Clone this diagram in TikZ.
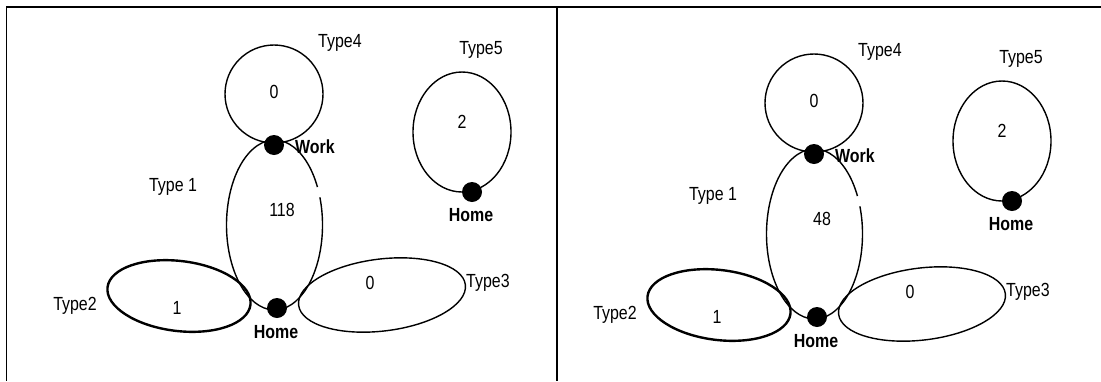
\documentclass[tikz,border=0pt]{standalone}
\usepackage{fontspec}
\setmainfont[FakeStretch=0.84]{Liberation Sans}
\tikzset{
  loopline/.style={draw=black, line width=1.4pt},
  thickloop/.style={draw=black, line width=2.4pt},
  dot/.style={circle, fill=black, minimum size=20pt, inner sep=0pt},
  lbl/.style={font=\fontsize{19}{21}\selectfont, inner sep=0pt},
  blbl/.style={font=\fontsize{19}{21}\selectfont\bfseries, inner sep=0pt},
  frameline/.style={line width=1.4pt}
}
\newcommand\drawpanel[2]{%
  % Type4 loop
  \draw[loopline] (274,-94) circle[radius=49];
  % Type5 loop
  \draw[loopline] (462,-132) ellipse[x radius=49, y radius=60];
  % Type 1 loop (with small gap on the right)
  \draw[loopline] (317.46,-187.07) arc[start angle=26.5, end angle=379, x radius=48, y radius=85];
  % Type2 loop
  \draw[thickloop, rotate around={-7:(179,-296)}] (179,-296) ellipse[x radius=72, y radius=35];
  % Type3 loop
  \draw[loopline, rotate around={7:(382,-295)}] (382,-295) ellipse[x radius=84, y radius=36];
  % dots
  \node[dot] (#1work) at (274,-145) {};
  \node[dot] (#1home) at (277,-308) {};
  \node[dot] (#1homeb) at (472,-192) {};
  % labels
  \node[blbl, anchor=west] (#1worklbl) at (295,-147) {Work};
  \node[blbl] (#1homelbl) at (276,-332) {Home};
  \node[blbl] (#1homeblbl) at (471,-215) {Home};
  \node[lbl, anchor=west] (#1tfour) at (318,-43) {Type4};
  \node[lbl] (#1tfive) at (481,-50) {Type5};
  \node[lbl] (#1tone) at (173,-187) {Type 1};
  \node[lbl] (#1ttwo) at (75,-306) {Type2};
  \node[lbl, anchor=west] (#1tthree) at (466,-283) {Type3};
  \node[lbl] (#1nfour) at (274,-92) {0};
  \node[lbl] (#1none) at (282,-210) {#2};
  \node[lbl] (#1ntwo) at (177,-308) {1};
  \node[lbl] (#1nthree) at (370,-283) {0};
  \node[lbl] (#1nfive) at (462,-122) {2};
}
\begin{document}
\begin{tikzpicture}[x=1pt, y=1pt]
  \useasboundingbox (0,0) rectangle (1101,-381);
  \draw[frameline] (6,-7) -- (1101,-7);
  \draw[frameline] (6.5,-6) -- (6.5,-381);
  \draw[frameline] (557,-6) -- (557,-381);
  \begin{scope}
    \drawpanel{L}{118}
  \end{scope}
  \begin{scope}[shift={(540,-9)}]
    \drawpanel{R}{48}
  \end{scope}
\end{tikzpicture}
\end{document}
